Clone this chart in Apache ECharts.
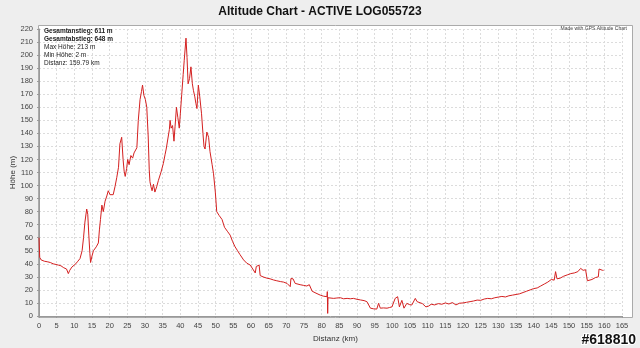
<!DOCTYPE html>
<html>
<head>
<meta charset="utf-8">
<script src="https://cdn.jsdelivr.net/npm/echarts@6/dist/echarts.min.js"></script>
<style>
  html, body { margin: 0; padding: 0; background: #eeeeee; }
  #chart { width: 640px; height: 348px; }
</style>
</head>
<body>
<div id="chart"></div>
<script>
// Track profile: distance along the route (km) and altitude (m)
const distanceKm = [
  0, 0.2, 0.6, 1.5, 2.5, 3.2, 4.0, 4.8, 5.5, 6.2, 7.0, 7.4, 7.8, 8.3, 8.7, 9.3, 9.8, 10.4, 11.0, 11.6,
  12.2, 12.6, 13.0, 13.5, 13.8, 14.1, 14.4, 14.6, 15.0, 15.4, 16.2, 16.8, 17.1, 17.4, 17.8, 18.2, 18.7, 19.2, 19.6, 20.1,
  20.6, 21.0, 21.5, 22.0, 22.5, 22.9, 23.4, 23.8, 24.1, 24.4, 24.8, 25.1, 25.5, 26.0, 26.5, 26.9, 27.3, 27.7, 28.1, 28.6,
  29.0, 29.3, 29.7, 30.1, 30.5, 30.9, 31.2, 31.4, 31.7, 32.0, 32.4, 32.8, 33.3, 33.8, 34.5, 35.2, 35.7, 36.0, 36.5, 36.9,
  37.1, 37.4, 37.8, 38.2, 38.5, 38.9, 39.3, 39.7, 40.0, 40.4, 40.8, 41.1, 41.6, 41.9, 42.2, 42.6, 43.0, 43.4, 43.7, 44.1,
  44.4, 44.7, 45.1, 45.5, 46.0, 46.4, 46.7, 47.0, 47.5, 48.0, 48.4, 49.0, 49.4, 49.9, 50.3, 51.0, 51.8, 52.5, 53.3, 54.1,
  54.8, 55.5, 56.2, 56.9, 57.9, 58.8, 59.8, 60.5, 61.2, 61.5, 61.8, 62.3, 62.6, 63.4, 64.5, 65.4, 66.4, 67.3, 68.3, 69.2,
  70.2, 71.1, 71.3, 71.9, 72.2, 72.5, 73.9, 74.8, 75.8, 76.5, 76.8, 77.3, 78.4, 79.6, 80.5, 81.5, 81.6, 81.7, 81.8, 83.4,
  84.3, 85.3, 86.2, 87.2, 88.1, 89.0, 90.0, 91.0, 92.0, 92.8, 93.8, 94.7, 95.6, 96.1, 96.6, 97.5, 98.5, 99.2, 99.9, 100.8,
  101.5, 102.0, 102.7, 103.3, 104.1, 104.8, 105.5, 106.5, 107.0, 107.5, 108.5, 109.5, 110.2, 111, 112, 113, 114, 115, 116, 117,
  118, 119, 120, 121, 122, 123, 124, 125, 126, 127, 128, 129, 130, 131, 132, 133, 134, 135, 136, 137,
  138, 139, 140, 141, 142, 143, 144, 145, 145.8, 146.2, 146.6, 147.5, 148.5, 149.5, 150.5, 151.5, 152.5, 153.3, 154, 154.7,
  155.2, 155.6, 156.5, 157.5, 158.3, 158.5, 159.0, 159.5, 159.79
];
const altitudeM = [
  60, 45, 43, 42, 41.5, 41, 40, 39.5, 39, 38.5, 37, 38, 36, 32.5, 35, 37.5, 39, 40, 42, 44,
  50, 60, 72, 82, 78, 62, 48, 41, 46, 50, 53, 56, 66, 74, 85, 80, 88, 92, 96, 93,
  94, 93, 99, 106, 114, 132, 137, 120, 111, 107, 113, 120, 116, 123, 121, 125, 126, 129, 150, 166,
  172, 177, 169, 166, 160, 138, 112, 103, 99, 96, 101, 95, 99, 104, 110, 117, 124, 128, 127, 143,
  150, 144, 146, 134, 145, 160, 152, 144, 155, 170, 185, 196, 213, 198, 178, 182, 191, 178, 173, 168,
  163, 159, 177, 168, 155, 140, 130, 128, 141, 137, 126, 116, 109, 95, 80, 77, 74, 68, 65, 62,
  57, 53, 50, 47, 43, 40.5, 39, 36, 33, 38, 39, 39, 31, 30, 29, 28.5, 27.6, 27, 26.4, 26,
  25, 22.5, 28.7, 28.5, 27.5, 25, 24, 23.5, 23, 24, 22.5, 19, 17.5, 16, 15.2, 14.8, 18.7, 2, 14, 13.5,
  13.8, 14, 13.2, 13.5, 13.2, 13.5, 12.8, 12.3, 11.8, 11, 6, 5.5, 5.3, 9.7, 6, 6.2, 6, 6.5, 7, 13.5,
  14.8, 7, 12, 6, 9.7, 8.8, 8.4, 13.5, 11, 9.7, 9.5, 7, 7.5, 9, 8.5, 9.5, 9, 10, 9.2, 10.3,
  8.5, 9.8, 10, 10.5, 11, 11.5, 12.2, 12, 13, 13.5, 13.2, 14, 14.5, 15, 14.6, 15.5, 16, 16.5, 17, 18,
  19, 20, 21, 21.5, 23, 24.5, 26, 28, 27.5, 34, 28.5, 29, 30.5, 31.5, 32.5, 33, 34, 36.5, 35, 35.5,
  27, 26.5, 28, 29.5, 30, 36, 34.5, 35, 35
];

// Route summary shown in the upper-left corner of the plot
const summaryLines = [
  'Gesamtanstieg: 611 m',
  'Gesamtabstieg: 648 m',
  'Max Höhe: 213 m',
  'Min Höhe: 2 m',
  'Distanz: 159.79 km'
];

const FONT = '"Liberation Sans", Arial, sans-serif';
const profile = distanceKm.map((d, i) => [d, altitudeM[i]]);

const chart = echarts.init(document.getElementById('chart'), null, { renderer: 'canvas' });

const summaryText = summaryLines.map((line, i) => ({
  type: 'text',
  left: 44,
  top: 28 + i * 8,
  z: 10,
  style: {
    text: line,
    font: (i < 2 ? 'bold ' : '') + '6.5px ' + FONT,
    fill: '#222'
  }
}));

chart.setOption({
  backgroundColor: '#eeeeee',
  animation: false,
  title: {
    text: 'Altitude Chart - ACTIVE LOG055723',
    left: 'center',
    top: 1,
    textStyle: { fontFamily: FONT, fontWeight: 'bold', fontSize: 12, color: '#111' }
  },
  grid: { left: 39, right: 18, top: 29, bottom: 32, containLabel: false, outerBoundsMode: 'none' },
  xAxis: {
    type: 'value',
    min: 0,
    max: 165,
    interval: 5,
    offset: 2,
    name: 'Distanz (km)',
    nameLocation: 'middle',
    nameGap: 17,
    nameMoveOverlap: false,
    nameTextStyle: { fontFamily: FONT, fontSize: 8, color: '#333', padding: [0, 0, 0, 10] },
    axisLine: { show: true, lineStyle: { color: '#999', width: 1 } },
    axisTick: { show: true, length: 2, lineStyle: { color: '#999' } },
    axisLabel: { fontFamily: FONT, fontSize: 7.5, color: '#444', margin: 4 },
    splitLine: { show: true, lineStyle: { color: '#dcdcdc', type: [2, 2], width: 1 } }
  },
  yAxis: {
    type: 'value',
    min: 0,
    max: 220,
    interval: 10,
    offset: 2,
    name: 'Höhe (m)',
    nameLocation: 'middle',
    nameGap: 20,
    nameMoveOverlap: false,
    nameRotate: 90,
    nameTextStyle: { fontFamily: FONT, fontSize: 8, color: '#333' },
    axisLine: { show: true, lineStyle: { color: '#999', width: 1 } },
    axisTick: { show: true, length: 2, lineStyle: { color: '#999' } },
    axisLabel: { fontFamily: FONT, fontSize: 7.5, color: '#444', margin: 4 },
    splitLine: { show: true, lineStyle: { color: '#dcdcdc', type: [2, 2], width: 1 } }
  },
  graphic: [
    // plot frame
    {
      type: 'rect',
      z: -1,
      shape: { x: 38.5, y: 25.5, width: 594, height: 292 },
      style: { fill: '#ffffff', stroke: '#aaaaaa', lineWidth: 1 }
    },
    ...summaryText,
    {
      type: 'text',
      right: 13,
      top: 26,
      z: 10,
      style: { text: 'Made with GPS Altitude Chart', font: '5px ' + FONT, fill: '#444' }
    },
    {
      type: 'text',
      right: 3,
      top: 332,
      z: 10,
      style: {
        text: '#618810',
        font: 'bold 14px ' + FONT,
        fill: '#111',
        stroke: '#ffffff',
        lineWidth: 2
      }
    }
  ],
  series: [{
    type: 'line',
    data: profile,
    showSymbol: false,
    symbol: 'none',
    lineStyle: { color: '#d42020', width: 1 },
    clip: false
  }]
});
</script>
</body>
</html>
